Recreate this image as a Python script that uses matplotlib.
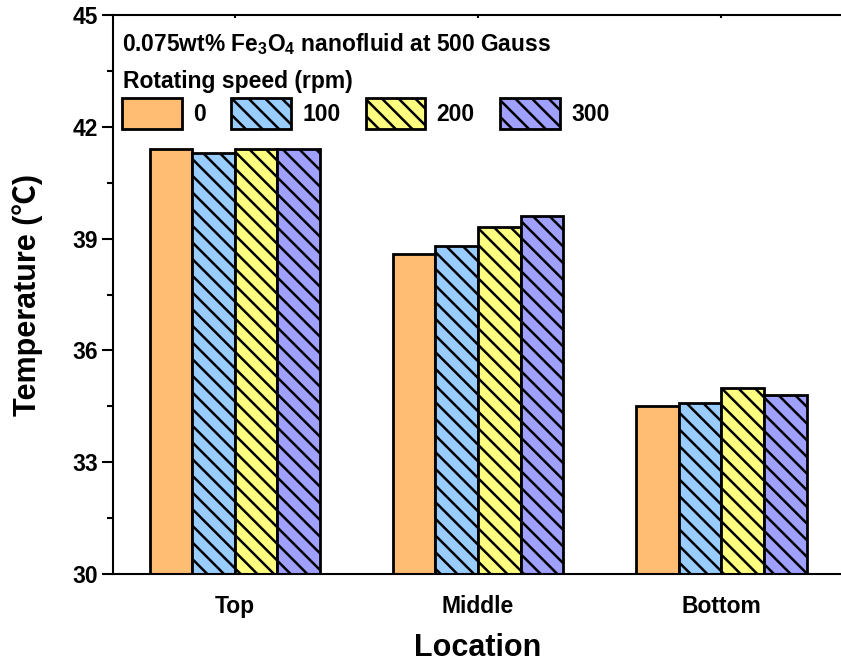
import matplotlib
matplotlib.use("Agg")
import matplotlib.pyplot as plt
from matplotlib.patches import Patch
from matplotlib.ticker import MultipleLocator
import numpy as np

locations = ["Top", "Middle", "Bottom"]
speeds = ["0", "100", "200", "300"]
temp_0 = [41.4, 38.6, 34.5]
temp_100 = [41.3, 38.8, 34.6]
temp_200 = [41.4, 39.3, 35.0]
temp_300 = [41.4, 39.6, 34.8]

colors = ["#FFBC73", "#99CCFF", "#FFFF80", "#A0A0FF"]
hatches = ["", "\\\\", "\\\\", "\\\\"]

plt.rcParams["font.family"] = ["Liberation Sans", "Noto Sans CJK SC", "DejaVu Sans"]
plt.rcParams["font.weight"] = "bold"
plt.rcParams["mathtext.fontset"] = "custom"
plt.rcParams["mathtext.rm"] = "Liberation Sans:bold"
plt.rcParams["mathtext.default"] = "rm"
plt.rcParams["hatch.linewidth"] = 1.8
plt.rcParams["hatch.color"] = "black"

fig = plt.figure(figsize=(8.41, 6.65), dpi=100)
ax = fig.add_axes([113 / 841, 91 / 665, 730 / 841, 559 / 665])

x = np.arange(1, len(locations) + 1)
width = 0.175
series = [temp_0, temp_100, temp_200, temp_300]
for i, vals in enumerate(series):
    ax.bar(x + (i - 1.5) * width, vals, width, color=colors[i],
           edgecolor="black", linewidth=2, hatch=hatches[i], zorder=2)

ax.set_xlim(0.5, 3.5)
ax.set_ylim(30, 45)
ax.set_xticks(x)
ax.set_xticklabels(locations)
ax.yaxis.set_major_locator(MultipleLocator(3))
ax.yaxis.set_minor_locator(MultipleLocator(1.5))
ax.tick_params(axis="both", which="major", labelsize=16.5)
ax.tick_params(axis="y", which="major", direction="out", length=8, width=1.5, pad=3)
ax.tick_params(axis="y", which="minor", direction="out", length=4.5, width=1.5)
ax.tick_params(axis="x", which="major", direction="out", length=8, width=1.5, pad=15)
ax.tick_params(axis="x", which="major", top=True, direction="in")
for t in ax.xaxis.get_major_ticks():
    t.tick2line.set_markersize(2)
for sp in ax.spines.values():
    sp.set_linewidth(1.5)

ax.set_ylabel("Temperature (\u2103)", fontsize=22, fontweight="bold", labelpad=21)
ax.set_xlabel("Location", fontsize=22, fontweight="bold", labelpad=11)

ax.text(0.012, 0.972, "0.075wt% Fe$_3$O$_4$ nanofluid at 500 Gauss",
        transform=ax.transAxes, fontsize=16.4, fontweight="bold",
        ha="left", va="top")
ax.text(0.0137, 0.869, "Rotating speed (rpm)", transform=ax.transAxes,
        fontsize=16.5, fontweight="bold", ha="left", va="baseline")

handles = [Patch(facecolor=colors[i], edgecolor="black", linewidth=2,
                 hatch=hatches[i]) for i in range(4)]
leg = ax.legend(handles, speeds, ncol=4,
                loc="upper left", bbox_to_anchor=(0.0, 0.868), frameon=False,
                fontsize=16.5,
                handlelength=2.6, handleheight=1.7, handletextpad=0.5,
                columnspacing=1.1, borderaxespad=0.0)

fig.savefig("out.png", dpi=100)
